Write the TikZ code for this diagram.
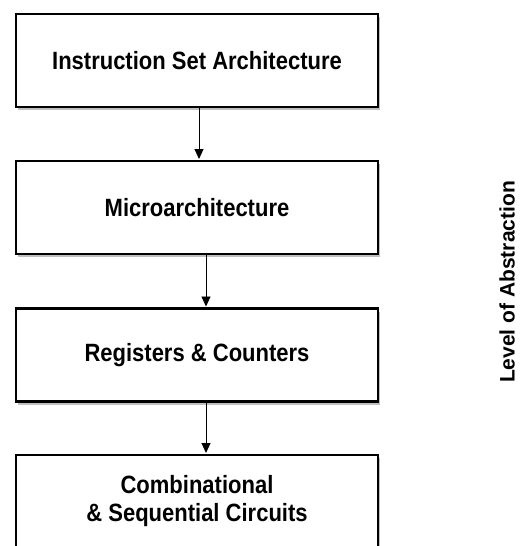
\documentclass[tikz,border=0pt]{standalone}
\usepackage{fontspec}
\setmainfont{Liberation Sans}
\newfontfamily\boxfont[FakeStretch=0.88]{Liberation Sans}
\usetikzlibrary{shadows,arrows.meta}
\begin{document}
\begin{tikzpicture}[x=1pt,y=1pt,
  box/.style={draw, line width=2.4pt, fill=white, minimum width=362pt, minimum height=93pt,
    inner sep=0pt, align=center, font=\boxfont\bfseries\fontsize{25}{28}\selectfont,
    drop shadow={shadow xshift=2pt, shadow yshift=-3pt, opacity=0.25, fill=black}},
  conn/.style={line width=0.9pt, shorten >=0.8pt, -{Triangle[width=9pt,length=10pt]}}]
\clip (0,0) rectangle (529,-546);
\fill[white] (0,0) rectangle (529,-546);
\node[box] (isa) at (197,-60.5) {Instruction Set Architecture};
\node[box] (ua) at (197,-207.5) {Microarchitecture};
\node[box] (rc) at (197,-355) {Registers \& Counters};
\node[box] (cs) at (197,-501.5) {Combinational\\\& Sequential Circuits};
\draw[conn] ([xshift=2pt]isa.south) -- ([xshift=2pt]ua.north);
\draw[conn] ([xshift=9pt]ua.south) -- ([xshift=9pt]rc.north);
\draw[conn] ([xshift=9pt]rc.south) -- ([xshift=9pt]cs.north);
\node[rotate=90, font=\bfseries\fontsize{21}{25}\selectfont] (lvl) at (507,-282) {Level of Abstraction};
\end{tikzpicture}
\end{document}
